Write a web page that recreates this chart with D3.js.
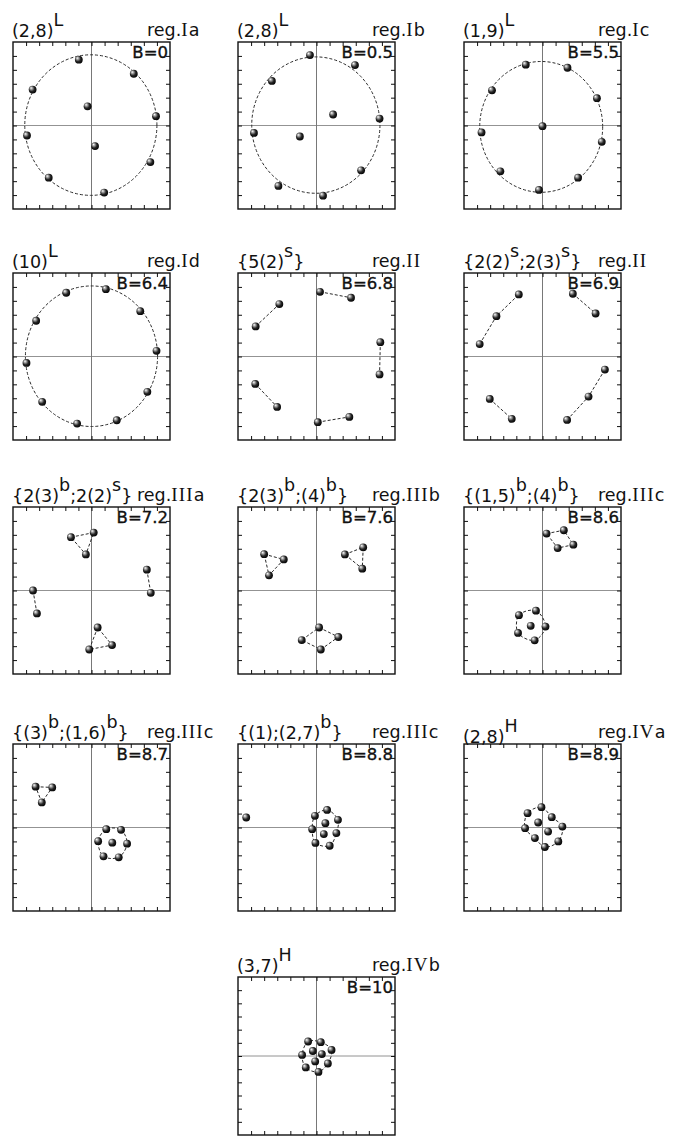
<!DOCTYPE html>
<html>
<head>
<meta charset="utf-8">
<script src="https://cdn.jsdelivr.net/npm/d3@7"></script>
<style>
  body { margin: 0; background: #fff; }
  svg { display: block; }
</style>
</head>
<body>
<svg id="fig" width="679" height="1144"></svg>
<script>
// Field strength B for each ground-state snapshot
const fieldB = [0, 0.5, 5.5, 6.4, 6.8, 6.9, 7.2, 7.6, 8.6, 8.7, 8.8, 8.9, 10];
// Shell configuration of each state ("^x" marks a superscript)
const configLabels = ["(2,8)^L", "(2,8)^L", "(1,9)^L", "(10)^L", "{5(2)^s}", "{2(2)^s;2(3)^s}",
  "{2(3)^b;2(2)^s}", "{2(3)^b;(4)^b}", "{(1,5)^b;(4)^b}", "{(3)^b;(1,6)^b}", "{(1);(2,7)^b}",
  "(2,8)^H", "(3,7)^H"];
// Regime of each state
const regimes = ["Ia", "Ib", "Ic", "Id", "II", "II", "IIIa", "IIIb", "IIIc", "IIIc", "IIIc", "IVa", "IVb"];
// Tick positions along both axes
const axisTicks = [-5, -4, -3, -2, -1, 0, 1, 2, 3, 4, 5];

// Particle positions (x, y) per state
const ptsIa = [[-0.97, 4.73], [3.23, 3.72], [-4.5, 2.58], [-0.3, 1.38], [4.93, 0.67],
  [-4.93, -0.72], [0.27, -1.48], [4.5, -2.63], [-3.27, -3.75], [0.97, -4.82]];
const ptsIb = [[-0.5, 5.06], [2.94, 4.34], [-3.41, 3.2], [1.27, 0.79], [4.82, 0.5],
  [-4.78, -0.53], [-1.27, -0.79], [3.41, -3.22], [-2.91, -4.34], [0.5, -5.04]];
const ptsIc = [[-1.28, 4.37], [1.91, 4.15], [-3.86, 2.53], [4.16, 1.96], [0, -0.05],
  [-4.66, -0.5], [4.53, -1.17], [-3.22, -3.29], [2.72, -3.75], [-0.27, -4.63]];
const ptsId = [[-1.93, 4.58], [1.1, 4.84], [3.73, 3.26], [-4.23, 2.57], [4.97, 0.41],
  [-4.97, -0.46], [4.27, -2.54], [-3.77, -3.26], [-1.1, -4.82], [1.93, -4.58]];
const ptsIIa = [[-4.65, 2.16], [-2.84, 3.77], [0.27, 4.65], [2.64, 4.22], [4.88, 1.03],
  [4.82, -1.29], [0.1, -4.72], [2.51, -4.34], [-4.68, -1.97], [-3.01, -3.62]];
const ptsIIb = [[-4.8, 0.89], [-3.52, 2.9], [-1.81, 4.46], [2.32, 4.51], [4.06, 3.09],
  [-4.03, -3.05], [-2.35, -4.48], [1.88, -4.56], [3.52, -2.88], [4.77, -0.94]];
const ptsIIIa = [[-1.57, 3.83], [0.17, 4.16], [-0.43, 2.59], [4.23, 1.5], [4.53, -0.17],
  [-4.47, 0], [-4.17, -1.65], [0.47, -2.66], [-0.17, -4.24], [1.57, -3.92]];
const ptsIIIb = [[-4.0, 2.61], [-2.5, 2.23], [-3.63, 1.09], [2.17, 2.59], [3.57, 3.1],
  [3.5, 1.57], [0.2, -2.66], [1.67, -3.34], [0.33, -4.24], [-1.13, -3.56]];
const ptsIIIc1 = [[0.31, 4.09], [1.63, 4.33], [2.36, 3.29], [1.16, 3.05], [-0.9, -2.54],
  [-1.8, -1.77], [-0.5, -1.45], [0.23, -2.59], [-0.6, -3.58], [-1.87, -3.05]];
const ptsIIIc2 = [[-4.27, 2.93], [-3.0, 2.88], [-3.8, 1.8], [1.59, -1.09], [1.13, -0.12],
  [2.26, -0.17], [2.72, -1.16], [2.08, -2.14], [0.92, -2.07], [0.51, -0.98]];
const ptsIIIc3 = [[-5.37, 0.72], [0.81, 1.26], [1.64, 0.55], [1.52, -0.4], [1.01, -1.31],
  [-0.08, -1.11], [-0.33, -0.12], [-0.12, 0.84], [0.68, 0.31], [0.56, -0.47]];
const ptsIVa = [[-0.08, 1.46], [0.71, 0.74], [1.52, 0.07], [1.21, -1.0], [0.18, -1.4],
  [-0.58, -0.76], [-1.33, -0.05], [-1.14, 1.03], [-0.33, 0.36], [0.43, -0.29]];
const ptsIVb = [[-0.64, 1.1], [0.33, 1.05], [1.15, 0.46], [0.87, -0.57], [0.15, -1.21],
  [-0.82, -0.87], [-1.1, 0.08], [-0.28, 0.38], [0.41, 0.15], [-0.1, -0.41]];

// Dashed shell circles [cx, cy, r] of the ring states
const circleIa = [-0.05, 0.03, 5.05];
const circleIb = [-0.05, 0.03, 4.9];
const circleIc = [-0.1, -0.1, 4.7];
const circleId = [0, 0.02, 5.05];

// Open dashed chains (point indices)
const chainsIIa = [[0, 1], [2, 3], [4, 5], [6, 7], [8, 9]];
const chainsIIb = [[0, 1, 2], [3, 4], [5, 6], [7, 8, 9]];
const chainsIIIa = [[3, 4], [5, 6]];
// Closed dashed polygons
const loopsIIIa = [[0, 1, 2], [7, 8, 9]];
const loopsIIIb = [[0, 1, 2], [3, 4, 5], [6, 7, 8, 9]];
const loopsIIIc1 = [[0, 1, 2, 3]];
const loopsIIIc2 = [[0, 1, 2]];
// Smooth closed shells through the outer particles of a cluster
const shellsIIIc1 = [[5, 6, 7, 8, 9]];
const shellsIIIc2 = [[4, 5, 6, 7, 8, 9]];
const shellsIIIc3 = [[1, 2, 3, 4, 5, 6, 7]];
const shellsIVa = [[0, 1, 2, 3, 4, 5, 6, 7]];
const shellsIVb = [[0, 1, 2, 3, 4, 5, 6]];

const panels = [
  { pts: ptsIa, circle: circleIa },
  { pts: ptsIb, circle: circleIb },
  { pts: ptsIc, circle: circleIc },
  { pts: ptsId, circle: circleId },
  { pts: ptsIIa, chains: chainsIIa },
  { pts: ptsIIb, chains: chainsIIb },
  { pts: ptsIIIa, chains: chainsIIIa, loops: loopsIIIa },
  { pts: ptsIIIb, loops: loopsIIIb },
  { pts: ptsIIIc1, loops: loopsIIIc1, shells: shellsIIIc1 },
  { pts: ptsIIIc2, loops: loopsIIIc2, shells: shellsIIIc2 },
  { pts: ptsIIIc3, shells: shellsIIIc3 },
  { pts: ptsIVa, shells: shellsIVa },
  { pts: ptsIVb, shells: shellsIVb }
].map((p, i) => Object.assign(p, { B: fieldB[i], config: configLabels[i], regime: regimes[i] }));

// ---- layout ----
const colX = [13, 238, 464];
const rowY = [42, 273, 507, 744];
const boxW = 157, boxH = 167;
const lastBox = { x: 238, y: 977, w: 157, h: 158 };
const titleDrop = { 11: 4 };          // the (2,8)^H heading sits a little lower
const regimeShift = { 6: -10 };       // reg.IIIa starts a little further left

function frameOf(i) {
  if (i === 12) return lastBox;
  return { x: colX[i % 3], y: rowY[Math.floor(i / 3)], w: boxW, h: boxH };
}

const svg = d3.select("#fig");

// shaded sphere
const defs = svg.append("defs");
const grad = defs.append("radialGradient").attr("id", "ball")
  .attr("cx", "0.42").attr("cy", "0.42").attr("r", "0.62")
  .attr("fx", "0.3").attr("fy", "0.28");
grad.append("stop").attr("offset", "0").attr("stop-color", "#ffffff");
grad.append("stop").attr("offset", "0.28").attr("stop-color", "#9a9a9a");
grad.append("stop").attr("offset", "0.6").attr("stop-color", "#262626");
grad.append("stop").attr("offset", "1").attr("stop-color", "#000000");

const sansFont = "'DejaVu Sans', sans-serif";
const serifFont = "'Liberation Serif', 'DejaVu Serif', serif";
const titleSize = 17.5;

function addConfigLabel(g, str, x, y) {
  const t = g.append("text").attr("x", x).attr("y", y)
    .attr("font-family", sansFont).attr("font-size", titleSize).attr("fill", "#111");
  const parts = str.split(/\^(\w)/);
  let raised = false;
  parts.forEach((s, k) => {
    if (!s) return;
    const sup = k % 2 === 1;
    let dy = null;
    if (sup && !raised) { dy = "-0.62em"; raised = true; }
    else if (!sup && raised) { dy = "0.62em"; raised = false; }
    t.append("tspan").attr("dy", dy).text(s);
  });
}

function addRegimeLabel(g, reg, x, y) {
  const m = reg.match(/^([IV]+)(.*)$/);
  const t = g.append("text").attr("x", x).attr("y", y)
    .attr("font-size", titleSize).attr("fill", "#111");
  t.append("tspan").attr("font-family", sansFont).text("reg.");
  t.append("tspan").attr("font-family", serifFont).attr("font-size", titleSize + 1.5)
    .attr("letter-spacing", 1.2).text(m[1]);
  if (m[2]) t.append("tspan").attr("font-family", sansFont).text(m[2]);
}

panels.forEach((p, i) => {
  const f = frameOf(i);
  const g = svg.append("g").attr("transform", `translate(${f.x},${f.y})`);
  const x = d3.scaleLinear().domain([-6, 6]).range([0, f.w]);
  const y = d3.scaleLinear().domain([-6, 6]).range([f.h, 0]);

  // headings above the frame
  addConfigLabel(g, p.config, -1, -5 + (titleDrop[i] || 0));
  addRegimeLabel(g, p.regime, 134 + (regimeShift[i] || 0), -6);

  // zero lines
  g.append("line").attr("x1", x(0)).attr("x2", x(0)).attr("y1", 0).attr("y2", f.h)
    .attr("stroke", "#555").attr("stroke-width", 0.8);
  g.append("line").attr("x1", 0).attr("x2", f.w).attr("y1", y(0)).attr("y2", y(0))
    .attr("stroke", "#777").attr("stroke-width", 0.8);

  // inward ticks on all four sides
  const tick = 4;
  const axes = [
    [d3.axisBottom(x), `translate(0,${f.h})`],
    [d3.axisTop(x), "translate(0,0)"],
    [d3.axisLeft(y), "translate(0,0)"],
    [d3.axisRight(y), `translate(${f.w},0)`]
  ];
  axes.forEach(([ax, tr]) => {
    const a = g.append("g").attr("transform", tr)
      .call(ax.tickValues(axisTicks).tickSize(-tick).tickFormat(""));
    a.select(".domain").remove();
    a.selectAll("line").attr("stroke", "#111").attr("stroke-width", 1);
  });

  // frame
  g.append("rect").attr("width", f.w).attr("height", f.h)
    .attr("fill", "none").attr("stroke", "#111").attr("stroke-width", 1.4);

  const dash = { stroke: "#2a2a2a", "stroke-width": 1, "stroke-dasharray": "3 2", fill: "none" };
  const applyDash = sel => Object.entries(dash).forEach(([k, v]) => sel.attr(k, v));

  if (p.circle) {
    const [cx, cy, r] = p.circle;
    applyDash(g.append("ellipse")
      .attr("cx", x(cx)).attr("cy", y(cy))
      .attr("rx", x(r) - x(0)).attr("ry", y(0) - y(r)));
  }
  const line = d3.line().x(d => x(d[0])).y(d => y(d[1]));
  (p.chains || []).forEach(c => applyDash(g.append("path").attr("d", line(c.map(k => p.pts[k])))));
  (p.loops || []).forEach(c => applyDash(g.append("path").attr("d", line(c.map(k => p.pts[k])) + "Z")));
  const smooth = d3.line().x(d => x(d[0])).y(d => y(d[1])).curve(d3.curveCatmullRomClosed.alpha(0.5));
  (p.shells || []).forEach(c => applyDash(g.append("path").attr("d", smooth(c.map(k => p.pts[k])))));

  // particles
  g.selectAll("circle.pt").data(p.pts).join("circle").attr("class", "pt")
    .attr("cx", d => x(d[0])).attr("cy", d => y(d[1])).attr("r", 3.9)
    .attr("fill", "url(#ball)");

  // field label
  g.append("text").attr("x", f.w - 2).attr("y", 16).attr("text-anchor", "end")
    .attr("font-family", sansFont).attr("font-size", 16.5)
    .attr("fill", "#111").attr("stroke", "#111").attr("stroke-width", 0.35)
    .text("B=" + p.B);
});
</script>
</body>
</html>
